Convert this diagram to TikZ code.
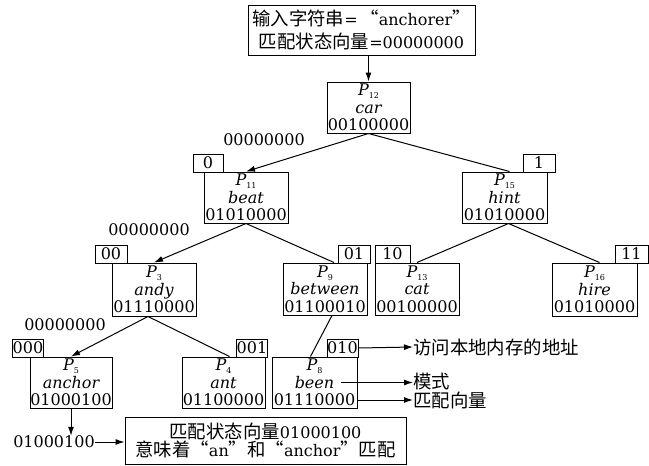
\documentclass[tikz,border=0pt]{standalone}
\usepackage{fontspec}
\setmainfont{DejaVu Serif}
\newfontfamily\cjk[Scale=1.15]{Noto Sans CJK SC}
\usetikzlibrary{arrows.meta}
\newcommand\Pn[1]{{\itshape P}\raisebox{-3pt}{\fontsize{8}{8}\selectfont #1}}
\begin{document}
\begin{tikzpicture}[x=1pt,y=-1pt,
  pbox/.style={draw, line width=1pt, minimum width=84pt, minimum height=51pt, inner sep=0pt, align=center, font=\fontsize{16}{17.5}\selectfont},
  lab/.style={draw, line width=1pt, minimum height=18pt, inner sep=0pt, font=\fontsize{16}{16}\selectfont},
  plain/.style={inner sep=0pt, font=\fontsize{16}{16}\selectfont},
  ann/.style={inner sep=0pt, anchor=west, font=\fontsize{16}{16}\selectfont\cjk},
  arr/.style={-{Latex[length=9pt,width=6pt]}, line width=1pt},
  edge/.style={line width=1pt}]
\useasboundingbox (0,0) rectangle (649,466);
% top box
\node[draw, line width=1pt, minimum width=227pt, minimum height=50pt, inner sep=0pt, align=center, font=\fontsize{16}{23}\selectfont] (top) at (361.5,30)
  {{\cjk 输入字符串}=\,{\cjk “}anchorer{\cjk ”}\\{\cjk 匹配状态向量}=00000000};
% tree nodes
\node[pbox, minimum width=83pt] (car) at (368.5,107.5) {\Pn{12}\\{\itshape car}\\00100000};
\node[pbox] (beat) at (246,197.5) {\Pn{11}\\{\itshape beat}\\01010000};
\node[pbox, minimum width=85pt] (hint) at (504.5,197.5) {\Pn{15}\\{\itshape hint}\\01010000};
\node[pbox, minimum height=53pt] (andy) at (154,289.5) {\Pn{3}\\{\itshape andy}\\01110000};
\node[pbox, minimum height=52pt] (between) at (325,289) {\Pn{9}\\{\itshape between}\\01100010};
\node[pbox, minimum height=52pt] (cat) at (417,289) {\Pn{13}\\{\itshape cat}\\00100000};
\node[pbox, minimum width=85pt, minimum height=53pt] (hire) at (594.5,289.5) {\Pn{16}\\{\itshape hire}\\01010000};
\node[pbox, minimum width=82pt] (anchor) at (71,382.5) {\Pn{5}\\{\itshape anchor}\\01000100};
\node[pbox, minimum width=83pt] (ant) at (223.5,382.5) {\Pn{4}\\{\itshape ant}\\01100000};
\node[pbox, minimum width=85pt] (been) at (314.5,382.5) {\Pn{8}\\{\itshape been}\\01110000};
% labels
\node[lab, minimum width=30pt] (l0) at (208,163) {0};
\node[lab, minimum width=32pt] (l1) at (539,163) {1};
\node[lab, minimum width=32pt] (l00) at (111,254) {00};
\node[lab, minimum width=32pt] (l01) at (354,254) {01};
\node[lab, minimum width=35pt] (l10) at (392.5,254) {10};
\node[lab, minimum width=33pt] (l11) at (631.5,254) {11};
\node[lab, minimum width=30pt] (l000) at (28,348) {000};
\node[lab, minimum width=30pt] (l001) at (252,348) {001};
\node[lab, minimum width=31pt] (l010) at (342.5,348) {010};
% zero vectors
\node[plain] (z1) at (264,140) {00000000};
\node[plain] (z2) at (149,230) {00000000};
\node[plain] (z3) at (65,325) {00000000};
% bottom
\node[plain] (code) at (54,442) {01000100};
\node[draw, line width=1pt, minimum width=281pt, minimum height=47pt, inner sep=0pt, align=center, font=\fontsize{16}{18}\selectfont] (bottom) at (265.5,440.5)
  {{\cjk 匹配状态向量}01000100\\{\cjk 意味着“}an{\cjk ”和“}anchor{\cjk ”匹配}};
% annotations
\node[ann] (t1) at (413,347) {访问本地内存的地址};
\node[ann] (t2) at (413,382) {模式};
\node[ann] (t3) at (413,400) {匹配向量};
% edges
\draw[arr] (top.south -| car.north) -- (car.north);
\draw[arr] (car.south) -- (beat.north);
\draw[edge] (car.south) -- ([xshift=5pt]hint.north);
\draw[arr] (beat.south) -- (andy.north);
\draw[edge] (beat.south) -- ([xshift=9pt]between.north);
\draw[edge] ([xshift=4pt]hint.south) -- (cat.north);
\draw[edge] ([xshift=4pt]hint.south) -- ([xshift=5pt]hire.north);
\draw[arr] ([xshift=-6pt]andy.south) -- (anchor.north);
\draw[edge] ([xshift=-6pt]andy.south) -- ([xshift=6pt]ant.north);
\draw[edge] ([xshift=7pt]between.south) -- ([xshift=-4pt]been.north);
\draw[arr] (anchor.south) -- (anchor.south |- code.north);
\draw[arr] (code.east) -- (bottom.west |- code.east);
\draw[arr] (l010.east) -- (t1.west);
\coordinate (beenw) at ([xshift=26pt]been.center);
\draw[arr] (beenw) -- (beenw -| t2.west);
\draw[arr] (been.east |- t3.west) -- (t3.west);
\end{tikzpicture}
\end{document}
